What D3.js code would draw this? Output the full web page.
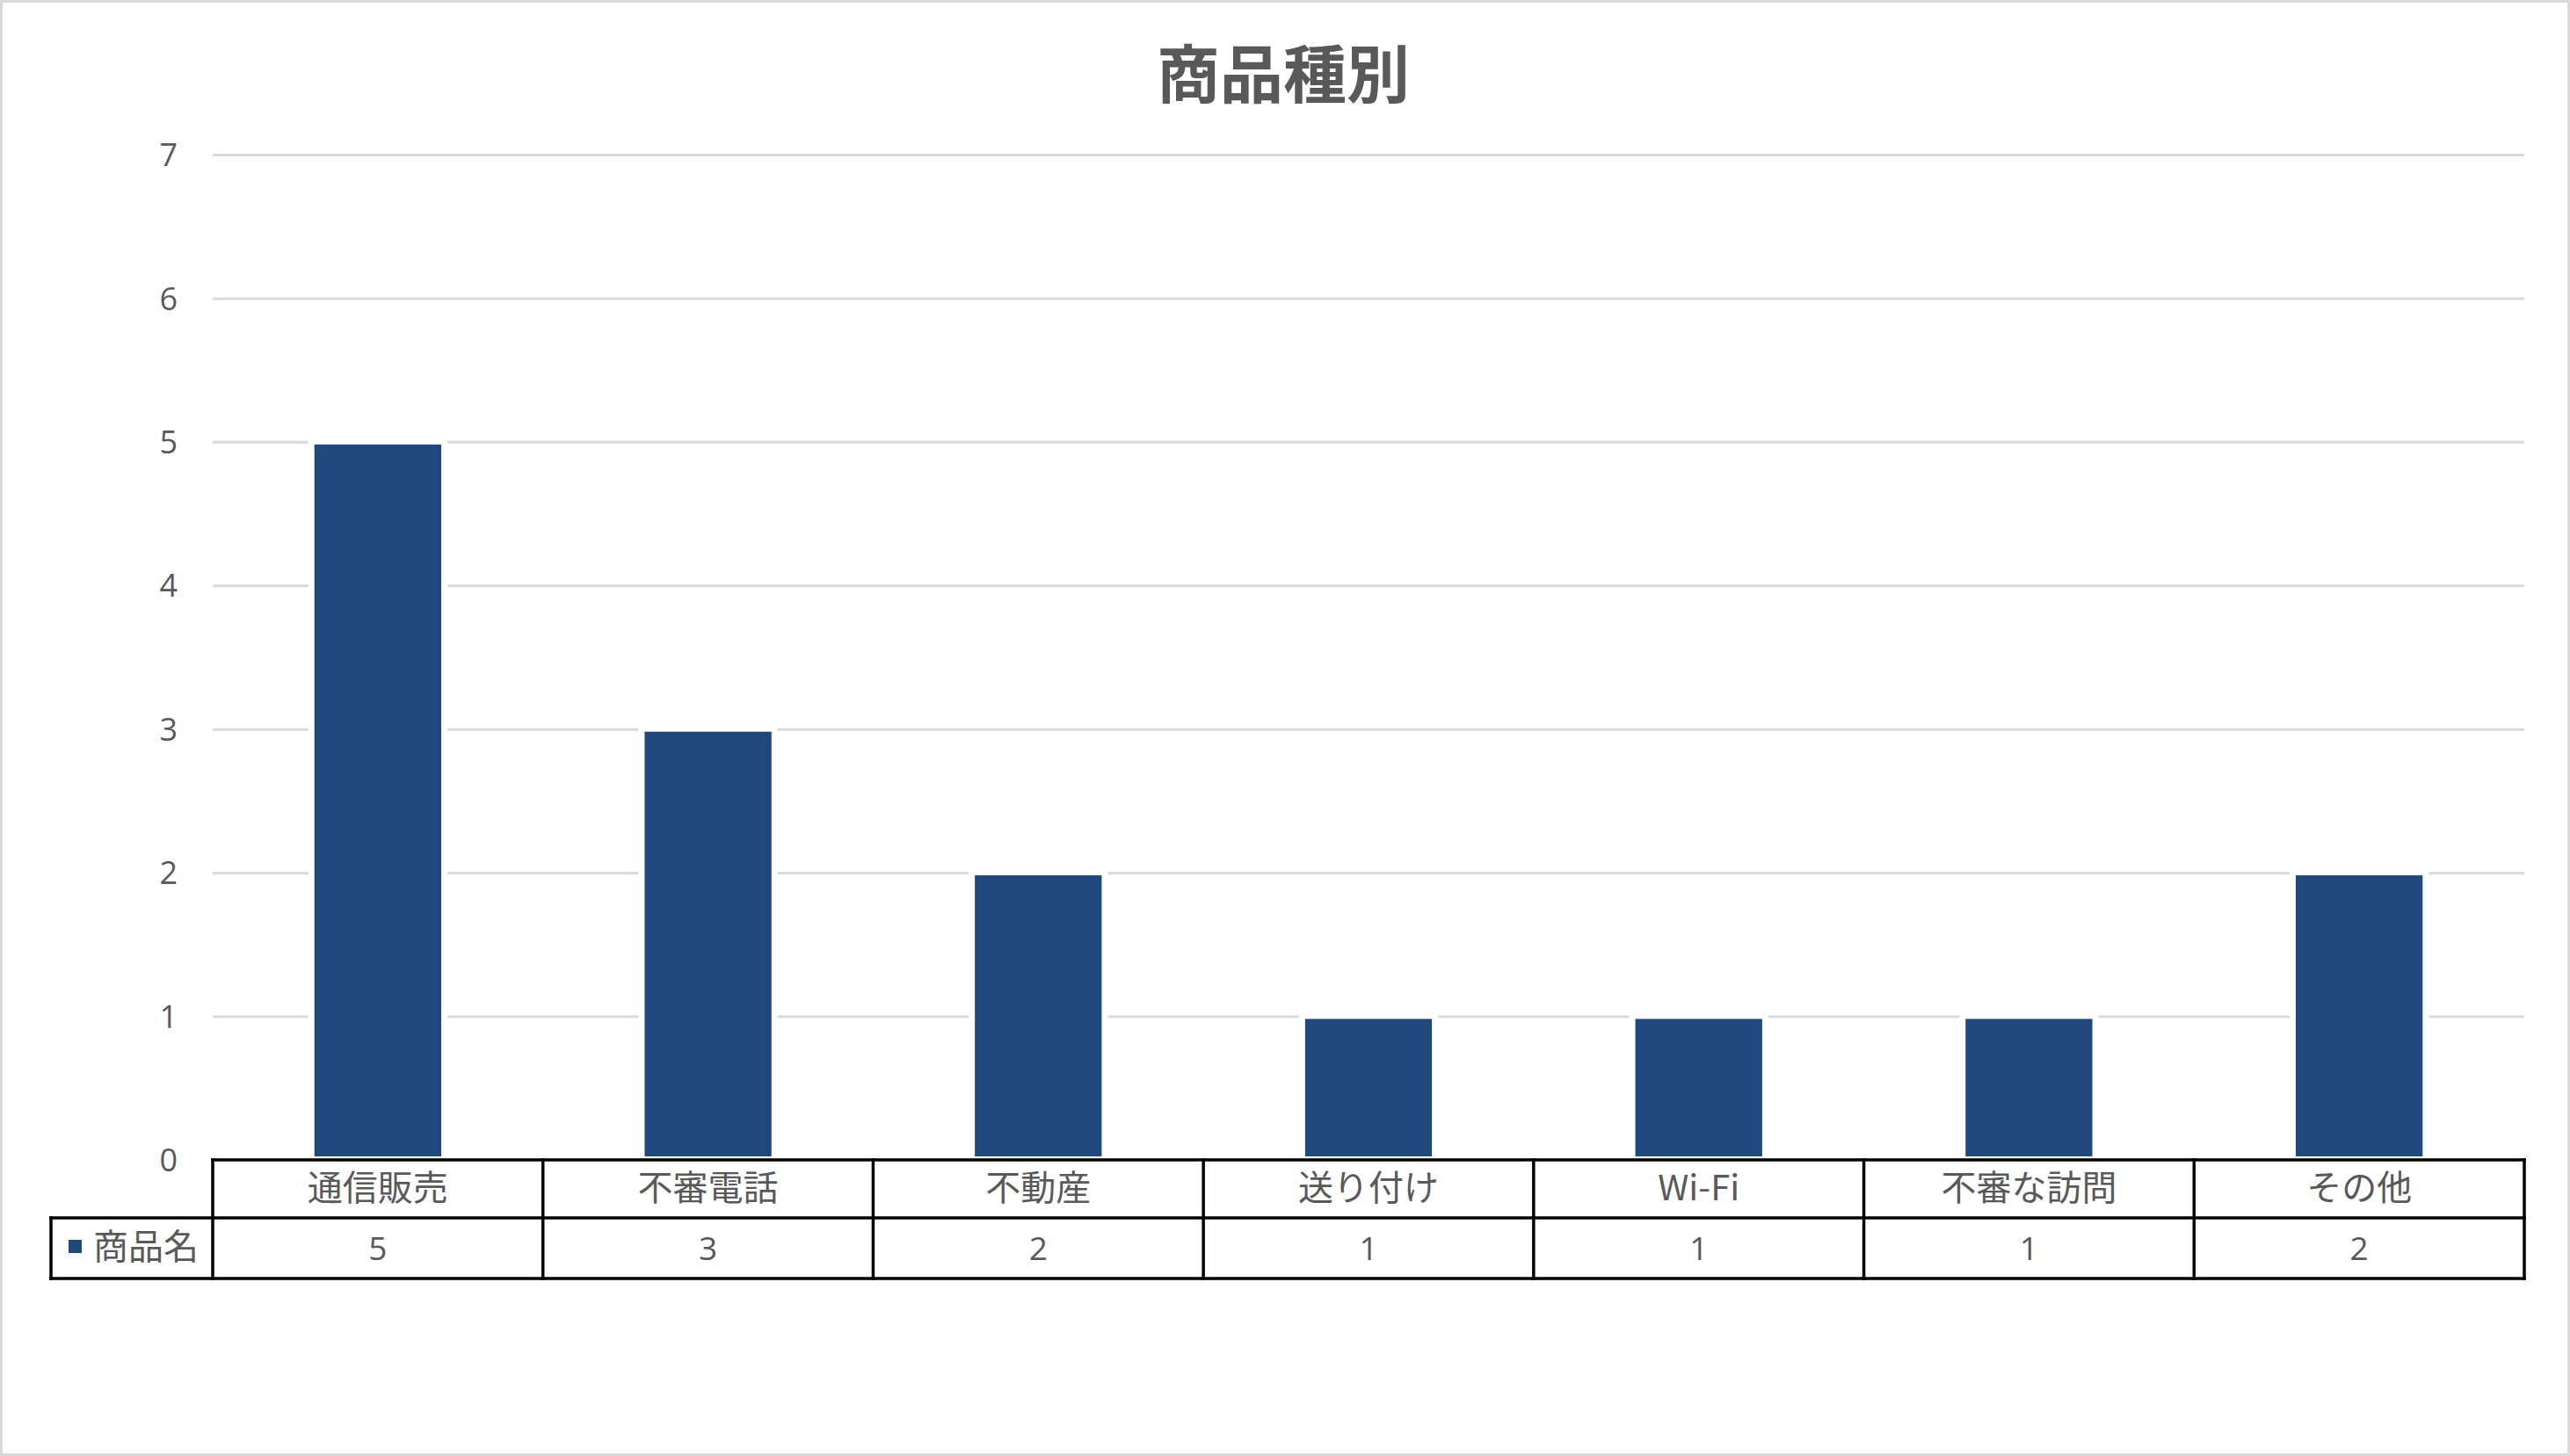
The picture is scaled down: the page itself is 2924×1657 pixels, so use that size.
<!DOCTYPE html>
<html>
<head>
<meta charset="utf-8">
<script src="https://cdn.jsdelivr.net/npm/d3@7"></script>
<style>
  html, body { margin: 0; padding: 0; background: #fff; }
  svg { display: block; }
</style>
</head>
<body>
<script>
// ---- data ----
const title = "商品種別";
const seriesName = "商品名";
const categories = ["通信販売", "不審電話", "不動産", "送り付け", "Wi-Fi", "不審な訪問", "その他"];
const values = [5, 3, 2, 1, 1, 1, 2];
const yTicks = [0, 1, 2, 3, 4, 5, 6, 7];

// ---- layout ----
const W = 2924, H = 1657;
const plotLeft = 242, plotRight = 2872, plotTop = 176, plotBottom = 1320;
const legendLeft = 58, row1Bottom = 1386, row2Bottom = 1455;
const barColor = "#1F497D";
const textColor = "#595959";
const cjk = "'Noto Sans CJK JP', 'Noto Sans', sans-serif";
const latin = "'Open Sans', 'Noto Sans', sans-serif";

const svg = d3.select("body").append("svg").attr("width", W).attr("height", H);

svg.append("rect").attr("x", 1.5).attr("y", 1.5).attr("width", W - 3).attr("height", H - 3)
  .attr("fill", "#fff").attr("stroke", "#d9d9d9").attr("stroke-width", 3);

const x = d3.scaleBand().domain(categories).range([plotLeft, plotRight]).padding(0);
const y = d3.scaleLinear().domain([0, 7]).range([plotBottom, plotTop]);

// title
svg.append("text").attr("x", 1460).attr("y", 79)
  .attr("text-anchor", "middle").attr("dominant-baseline", "central")
  .attr("font-family", cjk).attr("font-weight", 700).attr("font-size", 72)
  .attr("fill", textColor).text(title);

// y axis with gridlines
const yAxis = d3.axisLeft(y).tickValues(yTicks).tickFormat(d3.format("d"))
  .tickSizeInner(-(plotRight - plotLeft)).tickSizeOuter(0).tickPadding(40);
const gy = svg.append("g").attr("transform", `translate(${plotLeft},0)`).call(yAxis);
gy.select(".domain").remove();
gy.selectAll(".tick line").attr("stroke", "#d9d9d9").attr("stroke-width", 3)
  .attr("display", d => d === 0 ? "none" : null);
gy.selectAll(".tick text").attr("fill", textColor).attr("font-family", latin)
  .attr("font-size", 36).attr("dy", "0.35em");

// bars
const barW = x.bandwidth() * 0.384;
const bars = svg.append("g");
const data = categories.map((c, i) => ({ c, v: values[i] }));
bars.selectAll("rect.halo").data(data).join("rect").attr("class", "halo")
  .attr("x", d => x(d.c) + x.bandwidth() / 2 - barW / 2 - 7)
  .attr("width", barW + 14)
  .attr("y", d => y(d.v) - 4)
  .attr("height", d => plotBottom - y(d.v) + 4)
  .attr("fill", "#fff");
bars.selectAll("rect.bar").data(data).join("rect").attr("class", "bar")
  .attr("x", d => x(d.c) + x.bandwidth() / 2 - barW / 2)
  .attr("width", barW)
  .attr("y", d => y(d.v) + 3)
  .attr("height", d => plotBottom - 4 - (y(d.v) + 3))
  .attr("fill", barColor);

// data table
const tbl = svg.append("g");
const lineAttrs = sel => sel.attr("stroke", "#000").attr("stroke-width", 3.5).attr("stroke-linecap", "square");
lineAttrs(tbl.append("line").attr("x1", plotLeft).attr("x2", plotRight).attr("y1", plotBottom).attr("y2", plotBottom));
lineAttrs(tbl.append("line").attr("x1", legendLeft).attr("x2", plotRight).attr("y1", row1Bottom).attr("y2", row1Bottom));
lineAttrs(tbl.append("line").attr("x1", legendLeft).attr("x2", plotRight).attr("y1", row2Bottom).attr("y2", row2Bottom));
lineAttrs(tbl.append("line").attr("x1", legendLeft).attr("x2", legendLeft).attr("y1", row1Bottom).attr("y2", row2Bottom));
const colEdges = categories.map(c => x(c)).concat([plotRight]);
tbl.selectAll("line.col").data(colEdges).join("line").attr("class", "col")
  .attr("x1", d => d).attr("x2", d => d).attr("y1", plotBottom).attr("y2", row2Bottom)
  .call(lineAttrs);

tbl.selectAll("text.cat").data(categories).join("text").attr("class", "cat")
  .attr("x", d => x(d) + x.bandwidth() / 2).attr("y", (plotBottom + row1Bottom) / 2 - 4)
  .attr("text-anchor", "middle").attr("dominant-baseline", "central")
  .attr("font-family", cjk).attr("font-size", 40).attr("fill", textColor)
  .text(d => d);

tbl.selectAll("text.val").data(data).join("text").attr("class", "val")
  .attr("x", d => x(d.c) + x.bandwidth() / 2).attr("y", (row1Bottom + row2Bottom) / 2 - 1)
  .attr("text-anchor", "middle").attr("dominant-baseline", "central")
  .attr("font-family", latin).attr("font-size", 37).attr("fill", textColor)
  .text(d => d.v);

// legend key in table
tbl.append("rect").attr("x", 78).attr("y", 1411).attr("width", 15).attr("height", 15).attr("fill", barColor);
tbl.append("text").attr("x", 106).attr("y", (row1Bottom + row2Bottom) / 2 - 5)
  .attr("dominant-baseline", "central")
  .attr("font-family", cjk).attr("font-size", 40).attr("fill", textColor)
  .text(seriesName);
</script>
</body>
</html>
